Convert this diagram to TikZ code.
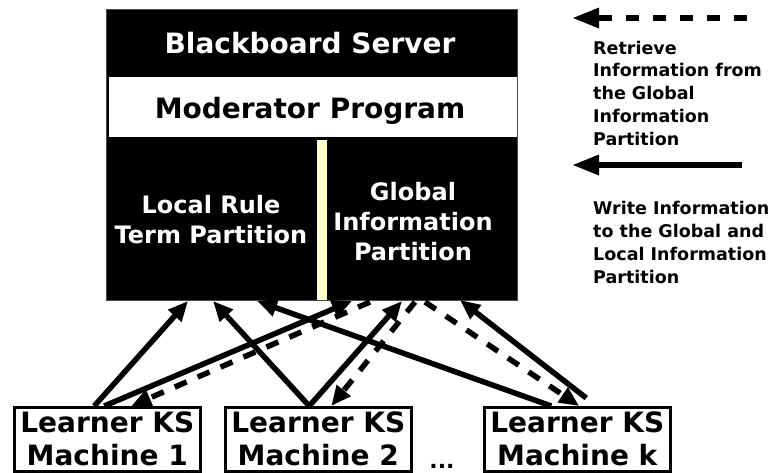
\documentclass[tikz,border=0pt]{standalone}
\usepackage{fontspec}
\setmainfont{DejaVu Sans}
\usetikzlibrary{arrows.meta}
\definecolor{barcol}{HTML}{FFFFC8}
\begin{document}
\begin{tikzpicture}[x=1pt,y=-1pt,
  wr/.style={line width=5.5pt, -{Triangle[length=20pt,width=17pt]}},
  rd/.style={wr, dash pattern=on 13pt off 12pt},
  legwr/.style={line width=6pt, -{Triangle[length=27pt,width=19pt]}},
  legrd/.style={legwr, dash pattern=on 13pt off 14pt},
  learner/.style={draw, line width=2.5pt, minimum width=186pt, minimum height=64pt,
    anchor=north west, inner sep=0pt, align=center,
    font=\fontsize{28}{33}\selectfont\bfseries},
  bigtxt/.style={font=\fontsize{28}{33}\selectfont\bfseries, inner sep=0pt},
  parttxt/.style={font=\fontsize{24}{30}\selectfont\bfseries, text=white, align=center, inner sep=0pt},
  legtxt/.style={font=\fontsize{17.5}{22.7}\selectfont\bfseries, align=left, inner sep=0pt, anchor=base west},
]
\useasboundingbox (0,0) rectangle (773,472);
% server
\node[fill=black, draw=black!70, line width=0.8pt, minimum width=411pt, minimum height=291pt,
  anchor=north west, inner sep=0pt] (server) at (106,9) {};
\node[fill=white, minimum width=408pt, minimum height=60pt, anchor=north west, inner sep=0pt]
  (mod) at (109,77) {};
\node[fill=barcol, minimum width=10pt, minimum height=160pt, anchor=north west, inner sep=0pt]
  (bar) at (317,140) {};
\node[bigtxt, text=white, anchor=base] (title) at (310,53) {Blackboard Server};
\node[bigtxt, anchor=base] (modtxt) at (310,118) {Moderator Program};
\node[parttxt, anchor=base] (local) at (211,243) {Local Rule\\Term Partition};
\node[parttxt, anchor=base] (global) at (413,260) {Global\\Information\\Partition};
% learners
\node[learner] (l1) at (13,406) {Learner KS\\Machine 1};
\node[learner] (l2) at (224,406) {Learner KS\\Machine 2};
\node[learner] (lk) at (483,406) {Learner KS\\Machine k};
\node[bigtxt, font=\fontsize{22}{26}\selectfont\bfseries, anchor=base] (dots) at (442,468) {...};
% connector end points
\coordinate (s1) at (188,301);
\coordinate (s2) at (352,301);
\coordinate (s3) at (213,301);
\coordinate (s4) at (402,301);
\coordinate (s5) at (257,301);
\coordinate (s6) at (460,300);
\coordinate (s7) at (370,302);
\coordinate (s8) at (415,302);
\coordinate (s9) at (425,302);
% solid: write
\draw[wr] ([xshift=-13pt]l1.north) -- (s1);
\draw[wr] ([xshift=-3pt]l1.north) -- (s2);
\draw[wr] ([xshift=-9pt]l2.north) -- (s3);
\draw[wr] ([xshift=-9pt]l2.north) -- (s4);
\draw[wr] ([xshift=-26pt]lk.north) -- (s5);
\draw[wr] ([xshift=9pt,yshift=8pt]lk.north) -- (s6);
% dashed: retrieve
\draw[rd] (s7) -- ([xshift=24pt]l1.north);
\draw[rd] (s8) -- ([xshift=13pt]l2.north);
\draw[rd] (s9) -- ([xshift=2pt]lk.north);
% legend
\coordinate (lg1a) at (747,18);
\coordinate (lg1b) at (572,18);
\coordinate (lg2a) at (742,165);
\coordinate (lg2b) at (572,165);
\draw[legrd] (lg1a) -- (lg1b);
\draw[legwr] (lg2a) -- (lg2b);
\node[legtxt] (ret) at (593,145) {Retrieve\\Information from\\the Global\\Information\\Partition};
\node[legtxt] (wrt) at (593,283) {Write Information\\to the Global and\\Local Information\\Partition};
\end{tikzpicture}
\end{document}
